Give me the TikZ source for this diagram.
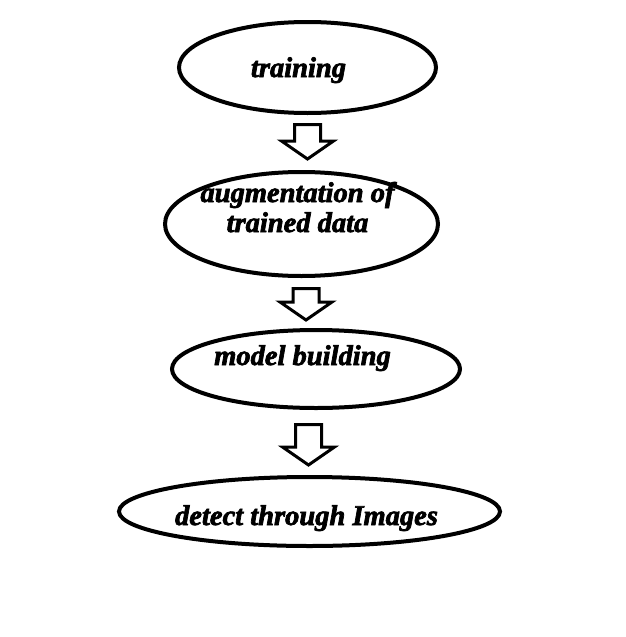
\documentclass[tikz,border=0pt]{standalone}
\usepackage{fontspec}
\setmainfont{Liberation Serif}[BoldItalicFeatures={FakeBold=2.5}]
\usetikzlibrary{calc,shapes.geometric}

\begin{document}
\begin{tikzpicture}[
		x=1pt, y=-1pt,
		stage/.style={ellipse, draw, line width=4pt, inner sep=0pt, outer sep=0pt},
		caption/.style={font=\fontsize{28.5}{30}\selectfont\bfseries\itshape,
				inner sep=0pt, align=center, anchor=base},
		hollow/.style={draw, line width=3pt, line join=miter,
				to path={let \p1=(\tikztostart), \p2=(\tikztotarget) in
						(\x1-13pt,\y1) -- (\x1+13pt,\y1) -- (\x1+13pt,\y2+18pt)
						-- (\x1+26pt,\y2+18pt) -- (\x1,\y2) -- (\x1-26pt,\y2+18pt)
						-- (\x1-13pt,\y2+18pt) -- cycle}},
	]
	\useasboundingbox (0,0) rectangle (625,637);

	\node[stage, minimum width=257, minimum height=91] (train) at (307.5,67.5) {};
	\node[stage, minimum width=273, minimum height=104] (aug) at (301.5,224) {};
	\node[stage, minimum width=288, minimum height=78] (model) at (316,369) {};
	\node[stage, minimum width=381, minimum height=69] (detect) at (309.5,511.5) {};

	\node[caption] (traintxt) at (298.5,77) {training};
	\node[caption] (augtxt) at (297.5,232) {augmentation of\\trained data};
	\node[caption] (modeltxt) at (302.5,365) {model building};
	\node[caption] (detecttxt) at (306.5,525) {detect through Images};

	\draw[hollow] ([yshift=-11.5pt]train.south) to ([yshift=13pt]aug.north);
	\draw[hollow] ([xshift=4.5pt,yshift=-12.5pt]aug.south) to ([yshift=10pt]model.north);
	\draw[hollow] ([xshift=-7.5pt,yshift=-16.5pt]model.south) to ([yshift=12pt]detect.north);

\end{tikzpicture}
\end{document}
